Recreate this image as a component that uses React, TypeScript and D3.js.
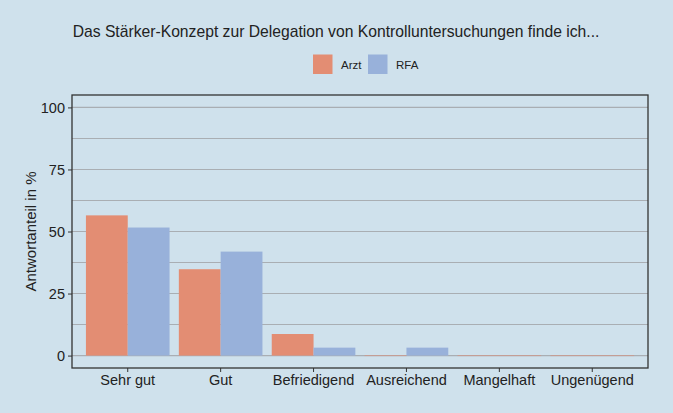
import React, { useEffect, useRef } from 'react';
import * as d3 from 'd3';

const categories = ['Sehr gut', 'Gut', 'Befriedigend', 'Ausreichend', 'Mangelhaft', 'Ungenügend'];
const seriesNames = ['Arzt', 'RFA'];
const arztValues = [56.5, 34.8, 8.7, 0, 0, 0];
const rfaValues = [51.6, 41.9, 3.2, 3.2, 0, 0];
const yTicks = [0, 25, 50, 75, 100];
const yMinor = [12.5, 37.5, 62.5, 87.5];

const colors = ['#e38d73', '#98b1da'];

export default function App() {
  const svgRef = useRef<SVGSVGElement>(null);

  useEffect(() => {
    if (!svgRef.current) return;
    const width = 673;
    const height = 413;
    const margin = { top: 95, right: 25, bottom: 45, left: 72 };
    const font = 'Liberation Sans, Arial, sans-serif';

    const svg = d3.select(svgRef.current);
    svg.selectAll('*').remove();

    svg.append('rect').attr('width', width).attr('height', height).attr('fill', '#cfe1ec');

    const x = d3.scaleBand()
      .domain(categories)
      .range([margin.left, width - margin.right])
      .paddingInner(0.1)
      .paddingOuter(0.15);

    const xs = d3.scaleBand()
      .domain(seriesNames)
      .range([0, x.bandwidth()]);

    const y = d3.scaleLinear()
      .domain([-5, 105])
      .range([height - margin.bottom, margin.top]);

    // grid
    svg.append('g')
      .selectAll('line')
      .data([...yMinor, ...yTicks])
      .join('line')
      .attr('x1', margin.left)
      .attr('x2', width - margin.right)
      .attr('y1', d => y(d))
      .attr('y2', d => y(d))
      .attr('stroke', '#a9aeb3')
      .attr('stroke-width', 1.1);

    const rows = categories.map((c, i) => ({ c, vals: [arztValues[i], rfaValues[i]] }));

    svg.append('g')
      .selectAll('g')
      .data(rows)
      .join('g')
      .attr('transform', d => `translate(${x(d.c)},0)`)
      .selectAll('rect')
      .data(d => d.vals.map((v, j) => ({ v, s: seriesNames[j], j })))
      .join('rect')
      .attr('x', d => xs(d.s) || 0)
      .attr('width', xs.bandwidth())
      .attr('y', d => y(d.v))
      .attr('height', d => Math.max(0, y(0) - y(d.v)))
      .attr('fill', d => colors[d.j]);

    // zero-height bars faint line
    svg.append('g')
      .selectAll('line')
      .data(rows.flatMap(r => r.vals.map((v, j) => ({ c: r.c, v, j }))).filter(d => d.v === 0))
      .join('line')
      .attr('x1', d => (x(d.c) || 0) + (xs(seriesNames[d.j]) || 0))
      .attr('x2', d => (x(d.c) || 0) + (xs(seriesNames[d.j]) || 0) + xs.bandwidth())
      .attr('y1', y(0))
      .attr('y2', y(0))
      .attr('stroke', colors[0])
      .attr('stroke-opacity', 0.5)
      .attr('stroke-width', 1);

    // panel border
    svg.append('rect')
      .attr('x', margin.left)
      .attr('y', margin.top)
      .attr('width', width - margin.left - margin.right)
      .attr('height', height - margin.top - margin.bottom)
      .attr('fill', 'none')
      .attr('stroke', '#333')
      .attr('stroke-width', 1.3);

    // y axis
    const yAxis = svg.append('g')
      .attr('transform', `translate(${margin.left},0)`)
      .call(d3.axisLeft(y).tickValues(yTicks).tickSize(4).tickPadding(3));
    yAxis.select('.domain').remove();
    yAxis.selectAll('line').attr('stroke', '#333');
    yAxis.selectAll('text').attr('font-size', 14.5).attr('font-family', font).attr('fill', '#222');

    // x axis
    const xAxis = svg.append('g')
      .attr('transform', `translate(0,${height - margin.bottom})`)
      .call(d3.axisBottom(x).tickSize(4).tickPadding(3));
    xAxis.select('.domain').remove();
    xAxis.selectAll('line').attr('stroke', '#333');
    xAxis.selectAll('text').attr('font-size', 14.5).attr('font-family', font).attr('fill', '#222');

    // y label
    svg.append('text')
      .attr('transform', `translate(36,${(margin.top + height - margin.bottom) / 2}) rotate(-90)`)
      .attr('text-anchor', 'middle')
      .attr('font-size', 15)
      .attr('font-family', font)
      .attr('fill', '#222')
      .text('Antwortanteil in %');

    // title
    svg.append('text')
      .attr('x', 336)
      .attr('y', 37)
      .attr('text-anchor', 'middle')
      .attr('font-size', 15.7)
      .attr('font-family', font)
      .attr('fill', '#222')
      .text('Das Stärker-Konzept zur Delegation von Kontrolluntersuchungen finde ich...');

    // legend
    const legendX = [313, 368];
    const lg = svg.append('g');
    seriesNames.forEach((s, i) => {
      lg.append('rect')
        .attr('x', legendX[i])
        .attr('y', 54.5)
        .attr('width', 19.5)
        .attr('height', 19.5)
        .attr('fill', colors[i]);
      lg.append('text')
        .attr('x', legendX[i] + 28)
        .attr('y', 68.5)
        .attr('font-size', 11.5)
        .attr('font-family', font)
        .attr('fill', '#222')
        .text(s);
    });
  }, []);

  return <svg ref={svgRef} width={673} height={413} style={{ display: 'block', position: 'absolute', left: 0, top: 0 }} />;
}
